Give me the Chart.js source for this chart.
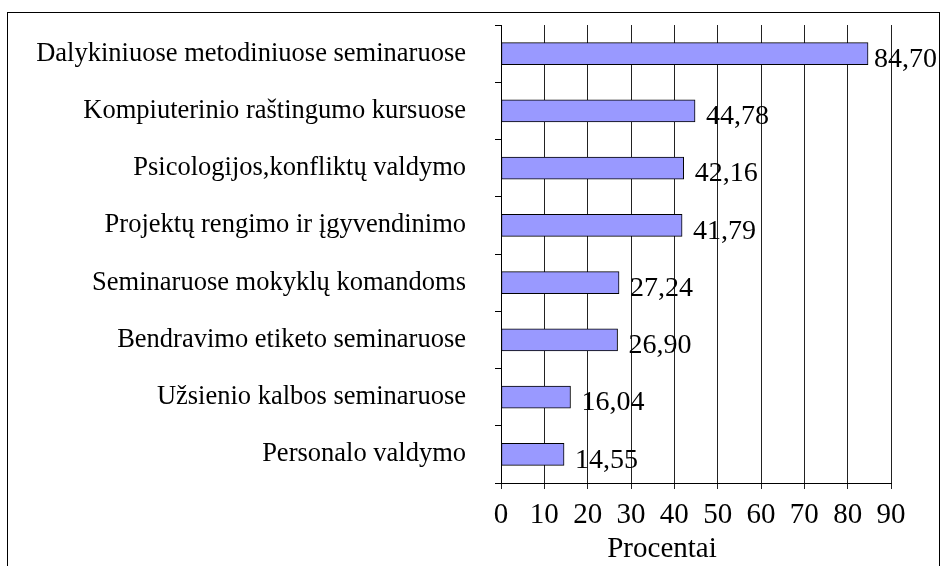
<!DOCTYPE html>
<html>
<head>
<meta charset="utf-8">
<script src="https://cdn.jsdelivr.net/npm/chart.js@4/dist/chart.umd.min.js"></script>
<style>
  html, body { margin: 0; padding: 0; background: #fff; }
  canvas { display: block; }
</style>
</head>
<body>
<canvas id="chart" width="941" height="566"></canvas>
<script>
// duomenys
const categories = [
    'Dalykiniuose metodiniuose seminaruose',
    'Kompiuterinio raštingumo kursuose',
    'Psicologijos,konfliktų valdymo',
    'Projektų rengimo ir įgyvendinimo',
    'Seminaruose mokyklų komandoms',
    'Bendravimo etiketo seminaruose',
    'Užsienio kalbos seminaruose',
    'Personalo valdymo'
];
const values = [84.70, 44.78, 42.16, 41.79, 27.24, 26.90, 16.04, 14.55];
const tickValues = [0, 10, 20, 30, 40, 50, 60, 70, 80, 90];
const axisTitle = 'Procentai';

const serif = 'Liberation Serif, Times New Roman, serif';

// rėmelis aplink visą diagramą
const framePlugin = {
    id: 'frame',
    beforeDraw(chart) {
        const ctx = chart.ctx;
        ctx.save();
        ctx.fillStyle = '#fff';
        ctx.fillRect(0, 0, chart.width, chart.height);
        ctx.strokeStyle = '#000';
        ctx.lineWidth = 1;
        ctx.strokeRect(7.5, 12.5, 932, 600);
        ctx.restore();
    }
};

// reikšmės šalia stulpelių ir ašies pavadinimas
const valueLabels = {
    id: 'valueLabels',
    afterDatasetsDraw(chart) {
        const ctx = chart.ctx;
        const bars = chart.getDatasetMeta(0).data;
        ctx.save();
        ctx.font = '28px ' + serif;
        ctx.fillStyle = '#000';
        ctx.textBaseline = 'middle';
        ctx.textAlign = 'left';
        bars.forEach((bar, i) => {
            const text = values[i].toFixed(2).replace('.', ',');
            const w = ctx.measureText(text).width;
            let x = bar.x + 11;
            if (x + w > 937) x = 937 - w;
            ctx.fillText(text, x, bar.y + 6);
        });
        // ašies pavadinimas šiek tiek į kairę nuo centro, kaip originale
        const area = chart.chartArea;
        ctx.font = '29px ' + serif;
        ctx.textAlign = 'center';
        ctx.fillText(axisTitle, (area.left + area.right) / 2 - 34, 549);
        ctx.restore();
    }
};

new Chart(document.getElementById('chart'), {
    type: 'bar',
    data: {
        labels: categories,
        datasets: [{
            data: values,
            backgroundColor: '#9999ff',
            borderColor: '#000',
            borderWidth: 1,
            borderSkipped: false,
            barThickness: 22
        }]
    },
    options: {
        indexAxis: 'y',
        responsive: false,
        animation: false,
        layout: { padding: { top: 25, right: 50, left: 0, bottom: 0 } },
        plugins: {
            legend: { display: false },
            tooltip: { enabled: false }
        },
        scales: {
            y: {
                grid: { drawOnChartArea: false, tickLength: 6, color: '#000', offset: true },
                border: { color: '#000' },
                ticks: { color: '#000', font: { family: serif, size: 26.5 }, padding: 29 },
                afterFit: s => {
                    s.width = 501;
                    s.paddingTop = 0;
                    s.paddingBottom = 0;
                }
            },
            x: {
                min: 0,
                max: 90,
                afterBuildTicks: s => { s.ticks = tickValues.map(v => ({ value: v })); },
                grid: { color: '#222', tickLength: 6 },
                border: { color: '#000' },
                ticks: { color: '#000', font: { family: serif, size: 29 }, padding: 9 },
                afterFit: s => { s.height = 83; }
            }
        }
    },
    plugins: [framePlugin, valueLabels]
});
</script>
</body>
</html>
